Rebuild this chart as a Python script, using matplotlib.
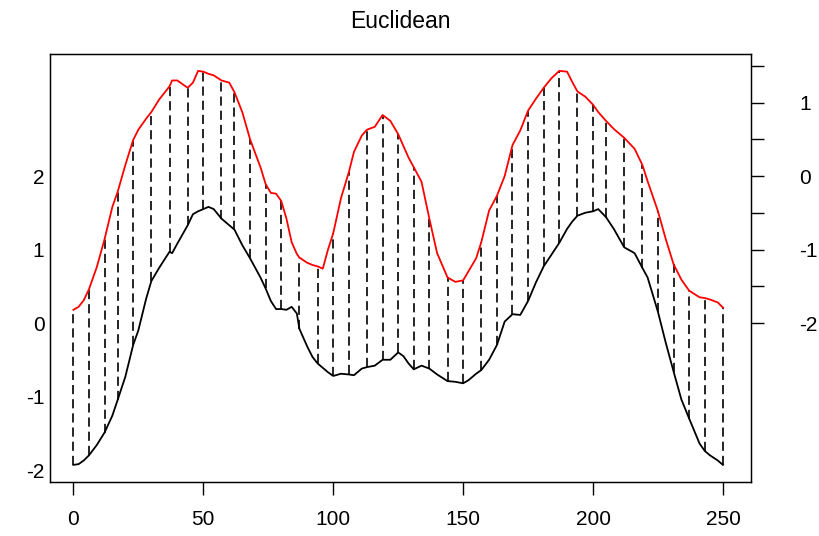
import numpy as np
import matplotlib
matplotlib.use("Agg")
from matplotlib import pyplot as plt

plt.rcParams["font.family"] = ["Liberation Sans", "DejaVu Sans"]
plt.rcParams["axes.unicode_minus"] = False

idx = [0, 2, 4, 6, 9, 12, 15, 17, 20, 23, 25, 28, 30, 33, 37, 38, 40, 44, 46, 48,
       50, 52, 54, 57, 60, 62, 65, 68, 72, 74, 76, 78, 80, 82, 84, 86, 87, 90, 92, 94,
       96, 98, 100, 103, 106, 108, 111, 113, 116, 119, 122, 125, 127, 129, 131, 134,
       137, 140, 144, 147, 150, 152, 155, 157, 160, 163, 166, 169, 172, 175, 178, 181,
       184, 187, 190, 192, 194, 197, 200, 202, 205, 208, 212, 216, 219, 221, 225, 228,
       231, 234, 237, 241, 243, 245, 248, 250]

# query (black, left axis)
query = [-1.93, -1.92, -1.87, -1.80, -1.66, -1.49, -1.26, -1.05, -0.73, -0.30, -0.10,
         0.33, 0.57, 0.75, 0.97, 0.95, 1.08, 1.33, 1.48, 1.52,
         1.55, 1.58, 1.55, 1.42, 1.33, 1.27, 1.06, 0.88, 0.62, 0.47, 0.30, 0.19, 0.19,
         0.18, 0.22, 0.13, -0.08, -0.32, -0.46, -0.55,
         -0.61, -0.67, -0.72, -0.69, -0.70, -0.71, -0.62, -0.60, -0.58, -0.50, -0.50,
         -0.40, -0.45, -0.55, -0.63, -0.58,
         -0.62, -0.70, -0.79, -0.80, -0.82, -0.78, -0.69, -0.64, -0.50, -0.30, 0.02,
         0.12, 0.11, 0.30, 0.55, 0.77,
         0.93, 1.09, 1.28, 1.38, 1.46, 1.50, 1.52, 1.55, 1.44, 1.28, 1.03, 0.95, 0.75,
         0.62, 0.15, -0.27,
         -0.66, -1.04, -1.30, -1.64, -1.74, -1.80, -1.87, -1.93]

# reference (red, right axis)
reference = [-1.82, -1.78, -1.69, -1.54, -1.24, -0.86, -0.42, -0.22, 0.15, 0.49, 0.63,
             0.78, 0.87, 1.04, 1.22, 1.30, 1.30, 1.20, 1.27, 1.43,
             1.42, 1.39, 1.37, 1.30, 1.27, 1.14, 0.87, 0.50, 0.12, -0.11, -0.23, -0.24,
             -0.34, -0.58, -0.90, -1.06, -1.11, -1.18, -1.21, -1.23,
             -1.26, -1.00, -0.78, -0.30, 0.05, 0.33, 0.55, 0.63, 0.67, 0.83, 0.75,
             0.57, 0.41, 0.25, 0.12, -0.08,
             -0.58, -1.05, -1.38, -1.44, -1.42, -1.30, -1.12, -0.90, -0.47, -0.27, 0.00,
             0.42, 0.62, 0.89, 1.05, 1.20,
             1.33, 1.43, 1.42, 1.28, 1.15, 1.08, 0.97, 0.87, 0.75, 0.64, 0.52, 0.37, 0.15,
             -0.07, -0.48, -0.86,
             -1.20, -1.41, -1.56, -1.65, -1.66, -1.68, -1.72, -1.79]

# matched indices drawn as dashed lines
matches = [0, 6, 12, 17, 23, 30, 37, 44, 50, 57, 62, 68, 74, 80, 87, 94, 100, 106,
           113, 119, 125, 131, 137, 144, 150, 157, 163, 169, 175, 181, 187, 194, 200,
           205, 212, 219, 225, 231, 237, 243, 250]

offset = 2

idx = np.array(idx)
q = np.array(query)
r = np.array(reference) + offset

fig = plt.figure(figsize=(8.2, 5.36), dpi=100)
ax = fig.add_axes([50 / 820, 54 / 536, 701 / 820, 428 / 536])

for m in matches:
    k = np.searchsorted(idx, m)
    ax.plot([idx[k], idx[k]], [q[k], r[k]], color="black", lw=1.2,
            linestyle=(0, (5.5, 3)), zorder=1)

ax.plot(idx, q, color="black", lw=1.3, zorder=2)
ax.plot(idx, r, color="red", lw=1.3, zorder=2)

ax.set_xlim(-9, 260.8)
ax.set_ylim(-2.163, 3.66)
ax.set_xticks([0, 50, 100, 150, 200, 250])
ax.set_yticks([-2, -1, 0, 1, 2])
ax.tick_params(axis="x", length=9.5, width=1, labelsize=15, pad=11)
ax.tick_params(axis="y", length=0, width=1, labelsize=15, pad=4)
for s in ax.spines.values():
    s.set_linewidth(1.0)

# right axis with the reference's own values
ax2 = ax.twinx()
ax2.set_ylim(ax.get_ylim())
rt = np.arange(-2, 2, 0.5)
ax2.set_yticks(rt + offset)
ax2.set_yticklabels(["%g" % v if v == int(v) else "" for v in rt])
ax2.tick_params(axis="y", length=9.5, width=1, labelsize=15, pad=25)
for lab in ax2.get_yticklabels():
    lab.set_horizontalalignment("left")

ax.set_title("Euclidean", fontsize=16.5, pad=19)

fig.savefig("out.png", dpi=100)
